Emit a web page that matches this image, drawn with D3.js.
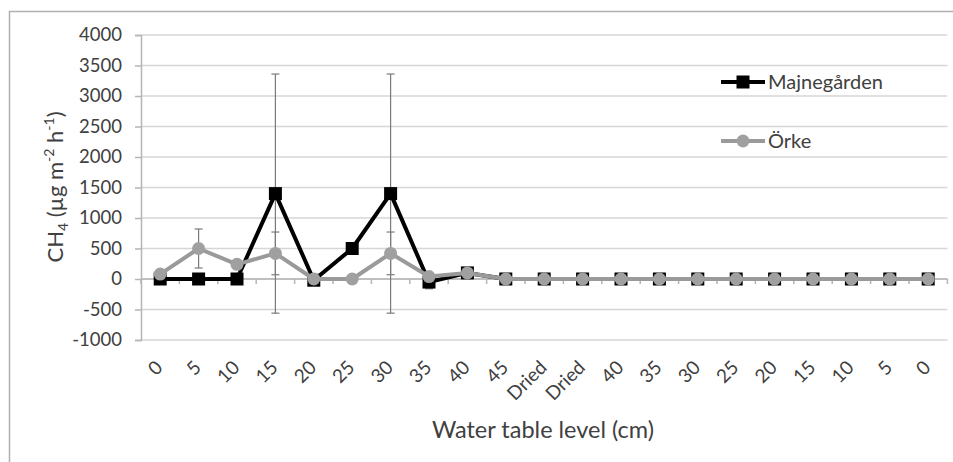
<!DOCTYPE html>
<html>
<head>
<meta charset="utf-8">
<script src="https://cdn.jsdelivr.net/npm/d3@7"></script>
<style>
  body { margin: 0; background: #fff; }
  svg text { font-family: Lato, "Open Sans", sans-serif; fill: #404040; }
</style>
</head>
<body>
<div id="chart"></div>
<script>
// water table level categories (cm)
var levels = ["0", "5", "10", "15", "20", "25", "30", "35", "40", "45", "Dried", "Dried",
              "40", "35", "30", "25", "20", "15", "10", "5", "0"];

var majne = [0, 0, 0, 1400, -20, 500, 1400, -50, 100, 0, 0, 0, 0, 0, 0, 0, 0, 0, 0, 0, 0];
var majneErr = [0, 0, 0, 1960, 0, 0, 1960, 110, 0, 0, 0, 0, 0, 0, 0, 0, 0, 0, 0, 0, 0];

var orke = [80, 500, 240, 420, 0, 0, 420, 40, 100, 0, 0, 0, 0, 0, 0, 0, 0, 0, 0, 0, 0];
var orkeErr = [0, 320, 0, 350, 0, 0, 350, 0, 0, 0, 0, 0, 0, 0, 0, 0, 0, 0, 0, 0, 0];

var yTicks = [-1000, -500, 0, 500, 1000, 1500, 2000, 2500, 3000, 3500, 4000];

var width = 953, height = 462;
var plotL = 141, plotR = 947.4, plotT = 35, plotB = 340;

var svg = d3.select("#chart").append("svg")
    .attr("width", width)
    .attr("height", height);

// outer chart border
svg.append("rect")
    .attr("x", 9.5).attr("y", 11.5)
    .attr("width", 960).attr("height", 470)
    .attr("fill", "none")
    .attr("stroke", "#b0b0b0")
    .attr("stroke-width", 1.5);

var x = d3.scaleBand()
    .domain(d3.range(levels.length))
    .range([plotL, plotR])
    .padding(0);

var y = d3.scaleLinear()
    .domain([-1000, 4000])
    .range([plotB, plotT]);

var cx = function (i) { return x(i) + x.bandwidth() / 2; };

// gridlines
svg.append("g")
    .selectAll("line")
    .data(yTicks)
    .enter()
    .append("line")
    .attr("x1", plotL).attr("x2", plotR)
    .attr("y1", function (d) { return y(d); })
    .attr("y2", function (d) { return y(d); })
    .attr("stroke", "#d6d6d6")
    .attr("stroke-width", 1.5);

// y axis
var yAxis = d3.axisLeft(y).tickValues(yTicks).tickSize(6).tickPadding(13)
    .tickFormat(function (d) { return String(d); });
var gy = svg.append("g")
    .attr("transform", "translate(" + plotL + ",0)")
    .call(yAxis);
gy.select(".domain").attr("stroke", "#b5b5b5").attr("stroke-width", 1.5);
gy.selectAll(".tick line").attr("stroke", "#b5b5b5").attr("stroke-width", 1.5);
gy.selectAll("text").style("font-size", "18.5px").attr("fill", "#404040")
    .style("font-family", "Lato, sans-serif");

// x axis line at zero with ticks between categories
var gx = svg.append("g");
gx.append("line")
    .attr("x1", plotL).attr("x2", plotR)
    .attr("y1", y(0)).attr("y2", y(0))
    .attr("stroke", "#b5b5b5")
    .attr("stroke-width", 1.5);
gx.selectAll(".bt")
    .data(d3.range(levels.length + 1))
    .enter()
    .append("line")
    .attr("x1", function (i) { return plotL + i * x.bandwidth(); })
    .attr("x2", function (i) { return plotL + i * x.bandwidth(); })
    .attr("y1", y(0)).attr("y2", y(0) + 5)
    .attr("stroke", "#b5b5b5")
    .attr("stroke-width", 1.5);

// category labels at the bottom, rotated
svg.append("g")
    .selectAll("text")
    .data(levels)
    .enter()
    .append("text")
    .attr("transform", function (d, i) {
        return "translate(" + (cx(i) - 1) + "," + (plotB + 24) + ") rotate(-45)";
    })
    .attr("text-anchor", "end")
    .attr("dy", "0.35em")
    .style("font-size", "19px")
    .text(function (d) { return d; });

// axis titles
svg.append("text")
    .attr("x", 543)
    .attr("y", 438)
    .attr("text-anchor", "middle")
    .style("font-size", "23.5px")
    .text("Water table level (cm)");

var yt = svg.append("text")
    .attr("transform", "translate(63,187) rotate(-90)")
    .attr("text-anchor", "middle")
    .style("font-size", "22px");
yt.append("tspan").text("CH");
yt.append("tspan").attr("dy", 5).style("font-size", "14px").text("4");
yt.append("tspan").attr("dy", -5).text(" (µg m");
yt.append("tspan").attr("dy", -9).style("font-size", "14px").text("-2");
yt.append("tspan").attr("dy", 9).text(" h");
yt.append("tspan").attr("dy", -9).style("font-size", "14px").text("-1");
yt.append("tspan").attr("dy", 9).text(")");

// error bars
function errorBars(vals, errs) {
    var g = svg.append("g");
    var idx = d3.range(vals.length).filter(function (i) { return errs[i] > 0; });
    g.selectAll(".v").data(idx).enter().append("line")
        .attr("x1", cx).attr("x2", cx)
        .attr("y1", function (i) { return y(vals[i] + errs[i]); })
        .attr("y2", function (i) { return y(vals[i] - errs[i]); })
        .attr("stroke", "#7a7a7a").attr("stroke-width", 1.2);
    [1, -1].forEach(function (s) {
        g.selectAll(".c" + s).data(idx).enter().append("line")
            .attr("x1", function (i) { return cx(i) - 4; })
            .attr("x2", function (i) { return cx(i) + 4; })
            .attr("y1", function (i) { return y(vals[i] + s * errs[i]); })
            .attr("y2", function (i) { return y(vals[i] + s * errs[i]); })
            .attr("stroke", "#7a7a7a").attr("stroke-width", 1.2);
    });
}
errorBars(majne, majneErr);
errorBars(orke, orkeErr);

var line = d3.line()
    .x(function (d, i) { return cx(i); })
    .y(function (d) { return y(d); });

// Majnegården
svg.append("path")
    .datum(majne)
    .attr("d", line)
    .attr("fill", "none")
    .attr("stroke", "#000")
    .attr("stroke-width", 4)
    .attr("stroke-linejoin", "round");
svg.append("g").selectAll("rect")
    .data(majne)
    .enter()
    .append("rect")
    .attr("x", function (d, i) { return cx(i) - 6.5; })
    .attr("y", function (d) { return y(d) - 6.5; })
    .attr("width", 13).attr("height", 13)
    .attr("fill", "#000");

// Örke
svg.append("path")
    .datum(orke)
    .attr("d", line)
    .attr("fill", "none")
    .attr("stroke", "#9a9a9a")
    .attr("stroke-width", 4)
    .attr("stroke-linejoin", "round");
svg.append("g").selectAll("circle")
    .data(orke)
    .enter()
    .append("circle")
    .attr("cx", function (d, i) { return cx(i); })
    .attr("cy", function (d) { return y(d); })
    .attr("r", 6.5)
    .attr("fill", "#a0a0a0");

// legend
var legend = svg.append("g");
legend.append("line").attr("x1", 721).attr("x2", 765).attr("y1", 82).attr("y2", 82)
    .attr("stroke", "#000").attr("stroke-width", 4);
legend.append("rect").attr("x", 736.5).attr("y", 75.5).attr("width", 13).attr("height", 13).attr("fill", "#000");
legend.append("text").attr("x", 768).attr("y", 82).attr("dy", "0.35em")
    .style("font-size", "20px").text("Majnegården");

legend.append("line").attr("x1", 721).attr("x2", 765).attr("y1", 141).attr("y2", 141)
    .attr("stroke", "#9a9a9a").attr("stroke-width", 4);
legend.append("circle").attr("cx", 743).attr("cy", 141).attr("r", 6.5).attr("fill", "#a0a0a0");
legend.append("text").attr("x", 768).attr("y", 141).attr("dy", "0.35em")
    .style("font-size", "20px").text("Örke");
</script>
</body>
</html>
